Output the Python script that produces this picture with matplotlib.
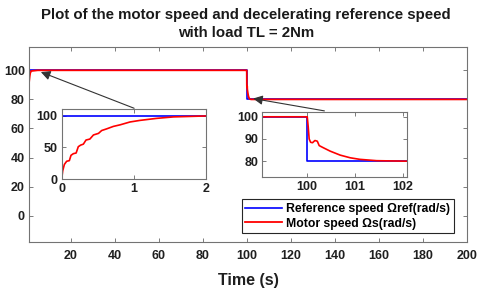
import matplotlib
matplotlib.use('Agg')
import matplotlib.pyplot as plt

plt.rcParams['font.family'] = ['Liberation Sans', 'DejaVu Sans']
plt.rcParams['font.weight'] = 'bold'

# ---- data ----
t_ref = [0, 100, 100, 200]
w_ref = [100, 100, 80, 80]

t_start = [0, 0.014, 0.037, 0.069, 0.106, 0.129, 0.162, 0.2, 0.23, 0.263, 0.3,
           0.337, 0.39, 0.44, 0.51, 0.554, 0.62, 0.716, 0.81, 0.947, 1.085,
           1.316, 1.55, 2.0]
w_start = [0, 13, 23, 28, 29, 37.4, 40, 41, 51, 53.5, 55, 61.5, 63, 69.5, 72,
           76.5, 79, 83, 85.5, 90, 92.5, 95.7, 98, 99.5]
t_dec = [100, 100.02, 100.04, 100.07, 100.11, 100.16, 100.21, 100.25, 100.34,
         100.48, 100.69, 100.9, 101.1, 101.45, 102]
w_dec = [100, 95.5, 90, 88.5, 88.3, 89.3, 89, 87, 86, 84.5, 82.7, 81.5, 80.8,
         80.2, 80]
t_mid = [5, 99.99]
w_mid = [100, 100]
t_end = [200]
w_end = [80]
t_motor = t_start + t_mid + t_dec + t_end
w_motor = w_start + w_mid + w_dec + w_end

main_xticks = [20, 40, 60, 80, 100, 120, 140, 160, 180, 200]
main_yticks = [0, 20, 40, 60, 80, 100]
ins1_xticks = [0, 1, 2]
ins1_yticks = [0, 50, 100]
ins2_xticks = [100, 101, 102]
ins2_yticks = [80, 90, 100]

BLUE = '#0000ff'
RED = '#ff0000'

W, H = 480, 291
fig = plt.figure(figsize=(4.8, 2.91), dpi=100)


def rect(l, t, r, b):
    return [l / W, 1 - b / H, (r - l) / W, (b - t) / H]


def style(ax):
    ax.tick_params(direction='in', length=3, width=0.6, color='0.4',
                   labelcolor='0.12', top=True, right=True, labelsize=9, pad=3)
    for s in ax.spines.values():
        s.set_color('0.45')
        s.set_linewidth(0.8)


ax = fig.add_axes(rect(29, 47, 466.7, 242))
ax.plot(t_ref, w_ref, color=BLUE, lw=1.2, label='Reference speed \u03a9ref(rad/s)')
ax.plot(t_motor, w_motor, color=RED, lw=1.3, label='Motor speed \u03a9s(rad/s)')
ax.set_xlim(1, 200)
ax.set_ylim(-18, 116)
ax.set_xticks(main_xticks)
ax.set_yticks(main_yticks)
style(ax)
ax.tick_params(axis='x', pad=6)

leg = ax.legend(loc='lower right', bbox_to_anchor=(0.971, 0.045),
                fontsize=8.8, frameon=True, fancybox=False, framealpha=1,
                edgecolor='0.15', handlelength=3.0, handletextpad=0.35,
                borderpad=0.3, labelspacing=0.2, borderaxespad=0)
leg.get_frame().set_linewidth(0.8)

fig.text(246 / W, 1 - 15 / H, 'Plot of the motor speed and decelerating reference speed',
         ha='center', va='center', fontsize=10.8, fontweight='bold', color='0.1')
fig.text(246 / W, 1 - 33 / H, 'with load TL = 2Nm',
         ha='center', va='center', fontsize=10.8, fontweight='bold', color='0.1')
fig.text(248 / W, 1 - 280 / H, 'Time (s)', ha='center', va='center',
         fontsize=11.5, fontweight='bold', color='0.12')

# arrows
arrow = dict(arrowstyle='-|>', color='0.2', lw=0.8, mutation_scale=14,
             shrinkA=0, shrinkB=0)
ax.annotate('', xy=(6.4, 98.8), xytext=(48.8, 73.9), arrowprops=arrow,
            annotation_clip=False)
ax.annotate('', xy=(102.9, 80.6), xytext=(135.3, 72.1), arrowprops=arrow,
            annotation_clip=False)

# inset 1
a1 = fig.add_axes(rect(61.7, 109.3, 206, 179))
a1.plot(t_ref, w_ref, color=BLUE, lw=1.2)
a1.plot(t_motor, w_motor, color=RED, lw=1.2)
a1.set_xlim(0, 2)
a1.set_ylim(0, 110)
a1.set_xticks(ins1_xticks)
a1.set_yticks(ins1_yticks)
style(a1)

# inset 2
a2 = fig.add_axes(rect(262.3, 111.7, 406.7, 177.3))
a2.plot(t_ref, w_ref, color=BLUE, lw=1.2)
a2.plot(t_motor, w_motor, color=RED, lw=1.2)
a2.set_xlim(99.06, 102.08)
a2.set_ylim(72.7, 102.3)
a2.set_xticks(ins2_xticks)
a2.set_yticks(ins2_yticks)
style(a2)

fig.savefig('out.png', dpi=100)
